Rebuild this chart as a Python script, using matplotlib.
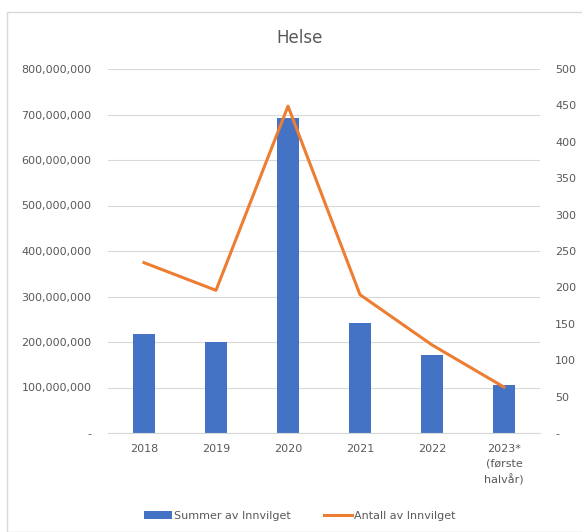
import numpy as np
import matplotlib.pyplot as plt
from matplotlib.patches import Rectangle
from matplotlib.ticker import FuncFormatter

years = ["2018", "2019", "2020", "2021", "2022", "2023*\n(første\nhalvår)"]
summer = [218e6, 200e6, 692e6, 242e6, 171e6, 105e6]
antall = [234, 196, 449, 190, 121, 63]

grey = "#595959"
blue = "#4472C4"
orange = "#ED7D31"

fig = plt.figure(figsize=(5.82, 5.32), dpi=100)
fig.patches.append(Rectangle((7 / 582, 0), 1, 1 - 12 / 532, transform=fig.transFigure,
                             fill=False, edgecolor="#d9d9d9", linewidth=1))

ax = fig.add_axes([108 / 582, 1 - 433 / 532, 432 / 582, 364 / 532])
x = np.arange(len(years))
ax.bar(x, summer, width=0.3, color=blue, label="Summer av Innvilget", zorder=2)
ax.set_ylim(0, 800e6)
ax.set_xlim(-0.5, len(years) - 0.5)
ax.set_yticks(np.arange(0, 800e6 + 1, 100e6))
ax.yaxis.set_major_formatter(FuncFormatter(lambda v, p: "-" if v == 0 else f"{v:,.0f}"))
ax.grid(axis="y", color="#d9d9d9", linewidth=0.8, zorder=0)
ax.set_xticks(x)
ax.set_xticklabels(years, linespacing=1.6)
for s in ["top", "left", "right"]:
    ax.spines[s].set_visible(False)
ax.spines["bottom"].set_color("#d9d9d9")
ax.tick_params(axis="both", length=0, colors=grey, labelsize=8)
ax.tick_params(axis="y", pad=12)
ax.tick_params(axis="x", pad=8)

ax2 = ax.twinx()
ax2.plot(x, antall, color=orange, linewidth=2.2, label="Antall av Innvilget", zorder=3)
ax2.set_ylim(0, 500)
ax2.set_yticks(np.arange(0, 501, 50))
ax2.yaxis.set_major_formatter(FuncFormatter(lambda v, p: "-" if v == 0 else f"{v:.0f}"))
for s in ["top", "left", "right", "bottom"]:
    ax2.spines[s].set_visible(False)
ax2.tick_params(axis="y", length=0, colors=grey, labelsize=8, pad=11)

fig.text(300 / 582, 1 - 38 / 532, "Helse", ha="center", va="center", fontsize=12, color=grey)

h1, l1 = ax.get_legend_handles_labels()
h2, l2 = ax2.get_legend_handles_labels()
fig.legend(h1 + h2, l1 + l2, loc="center", bbox_to_anchor=(300 / 582, 1 - 516 / 532),
           ncol=2, frameon=False, fontsize=8, labelcolor=grey, handlelength=2.5,
           handletextpad=0.2, columnspacing=3)

fig.savefig("out.png", dpi=100)
